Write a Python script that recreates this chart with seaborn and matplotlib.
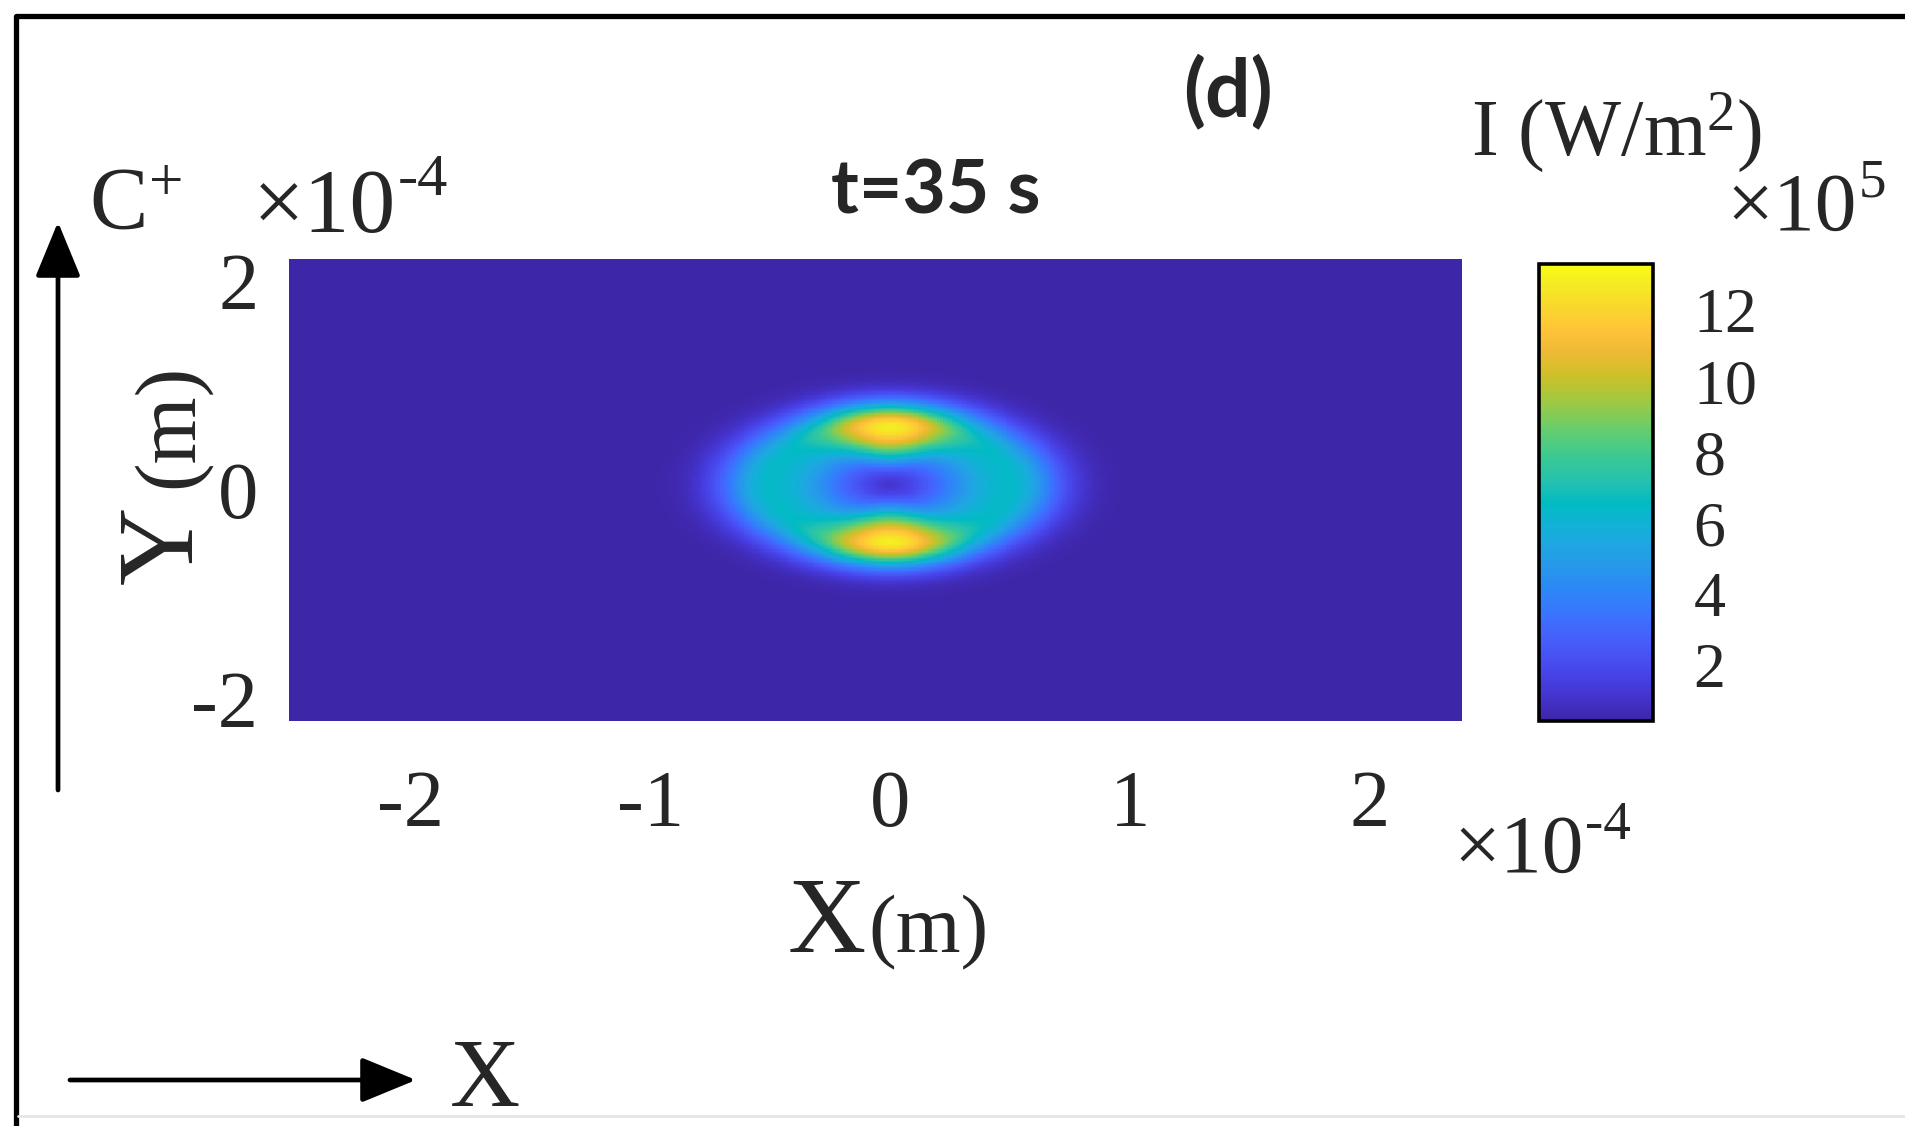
import numpy as np
import pandas as pd
import matplotlib
matplotlib.use("Agg")
import matplotlib.pyplot as plt
from matplotlib.colors import LinearSegmentedColormap
import seaborn as sns

# ── readings from the picture (x, y in 1e-4 m, I in 1e5 W/m^2) ────────────────
x_limits = [-2.5, 2.38]
y_limits = [-2.2, 2.2]
x_ticks = [-2, -1, 0, 1, 2]
y_ticks = [-2, 0, 2]
cbar_ticks = [2, 4, 6, 8, 10, 12]
i_range = [0.42, 13.3]

beam_center = [0.0, 0.05]      # ring centre
ring_radius = [0.50, 0.545]    # x / y radius of the bright ring
ring_width = [0.48, 0.30]      # inner / outer width, in ring radii
side_peak = 6.0                # cyan sides of the ring
pole_peak = 13.2               # yellow top / bottom lobes
background = 0.42

# parula (MATLAB) – every 3rd entry of the 64 colour table
parula_rgb = [
    (0.2422, 0.1504, 0.6603), (0.2647, 0.1978, 0.7952), (0.2783, 0.2559, 0.8991),
    (0.2810, 0.3228, 0.9579), (0.2699, 0.3892, 0.9906), (0.2206, 0.4603, 0.9973),
    (0.1786, 0.5289, 0.9682), (0.1540, 0.5902, 0.9218), (0.1248, 0.6459, 0.8883),
    (0.0689, 0.6948, 0.8394), (0.0067, 0.7312, 0.7660), (0.1408, 0.7584, 0.6842),
    (0.2161, 0.7843, 0.5923), (0.3406, 0.8008, 0.4789), (0.5044, 0.7993, 0.3480),
    (0.6720, 0.7793, 0.2227), (0.8203, 0.7498, 0.1535), (0.9393, 0.7288, 0.2100),
    (0.9970, 0.7659, 0.2199), (0.9786, 0.8386, 0.1766), (0.9597, 0.9135, 0.1423),
    (0.9769, 0.9839, 0.0805),
]
parula = LinearSegmentedColormap.from_list("parula", parula_rgb, N=256)

# ── intensity field ──────────────────────────────────────────────────────────
nx, ny = 400, 360
xg = np.linspace(x_limits[0], x_limits[1], nx)
yg = np.linspace(y_limits[1], y_limits[0], ny)
X, Y = np.meshgrid(xg, yg)
u = (X - beam_center[0]) / ring_radius[0]
v = (Y - beam_center[1]) / ring_radius[1]
rho = np.hypot(u, v)
pole_weight = (v ** 2 / (rho ** 2 + 0.03)) ** 4
peak = side_peak + (pole_peak - side_peak) * pole_weight
width = np.where(rho < 1, ring_width[0], ring_width[1])
field = background + peak * np.exp(-(rho - 1) ** 2 / (2 * width ** 2))
df = pd.DataFrame(field, index=np.round(yg, 4), columns=np.round(xg, 4))

# ── figure ───────────────────────────────────────────────────────────────────
sns.set_style("white")
plt.rcParams["font.family"] = ["Liberation Serif", "DejaVu Serif"]
plt.rcParams["mathtext.fontset"] = "custom"
plt.rcParams["mathtext.rm"] = "Liberation Serif"
plt.rcParams["mathtext.it"] = "Liberation Serif:italic"
plt.rcParams["axes.unicode_minus"] = False

W, H = 1906, 1126
fig = plt.figure(figsize=(W / 100, H / 100), dpi=100)
fig.patch.set_facecolor("white")

ax = fig.add_axes([289 / W, 1 - 721 / H, 1173 / W, 462 / H])
cax = fig.add_axes([1539 / W, 1 - 721 / H, 114 / W, 457 / H])

sns.heatmap(df, ax=ax, cbar_ax=cax, cmap=parula, vmin=i_range[0], vmax=i_range[1],
            xticklabels=False, yticklabels=False, rasterized=True)

dx = xg[1] - xg[0]
dy = yg[0] - yg[1]
ax.set_xticks([(t - xg[0]) / dx + 0.5 for t in x_ticks])
ax.set_xticklabels([f"{t:d}" for t in x_ticks])
ax.set_yticks([(yg[0] - t) / dy + 0.5 for t in y_ticks])
ax.set_yticklabels([f"{t:d}" for t in y_ticks])
ax.tick_params(axis="x", length=0, pad=35, labelsize=58)
ax.tick_params(axis="y", length=0, pad=22, labelsize=58)
ax.set_xlabel(""); ax.set_ylabel("")

cbar = ax.collections[0].colorbar
cbar.set_ticks(cbar_ticks, labels=[str(t) for t in cbar_ticks])
cbar.ax.tick_params(length=0, pad=29, labelsize=46)
cbar.outline.set_edgecolor("black")
cbar.outline.set_linewidth(2.6)

# ── labels ───────────────────────────────────────────────────────────────────
def fx(px): return px / W
def fy(py): return 1 - py / H

def times_ten(px, py, power, size):
    # "x10" with a raised plain-hyphen exponent, as in the original figure
    t = fig.text(fx(px), fy(py), "×10", fontsize=size, ha="left", va="baseline")
    fig.canvas.draw()
    bb = t.get_window_extent()
    fig.text(bb.x1 / W + 0.001, fy(py) + 0.40 * size / 72 * 100 / H, power,
             fontsize=size * 0.66, ha="left", va="baseline")

fig.text(fx(866), fy(952), "X", fontsize=78, ha="right", va="baseline")
fig.text(fx(868), fy(952), "(m)", fontsize=60, ha="left", va="baseline")
fig.text(fx(192), fy(506), "Y", fontsize=78, rotation=90, rotation_mode="anchor",
         ha="right", va="baseline")
fig.text(fx(192), fy(488), "(m)", fontsize=62, rotation=90, rotation_mode="anchor",
         ha="left", va="baseline")

times_ten(253, 232, "-4", 66)
times_ten(1453, 872, "-4", 60)
times_ten(1726, 230, "5", 60)
fig.text(fx(1471), fy(156), "I (W/m$^{2}$)", fontsize=58, ha="left", va="baseline")
fig.text(fx(89), fy(229), r"C$^{+}$", fontsize=63, ha="left", va="baseline")
fig.text(fx(450), fy(1106), "X", fontsize=70, ha="left", va="baseline")

fig.text(fx(936), fy(213), "t=35 s", fontsize=54, fontweight="bold",
         family=["Lato", "DejaVu Sans"], ha="center", va="baseline")
fig.text(fx(1228), fy(117), "(d)", fontsize=58, fontweight="bold",
         family=["Lato", "DejaVu Sans"], ha="center", va="baseline")

# ── frame and direction arrows (pixel overlay) ───────────────────────────────
ov = fig.add_axes([0, 0, 1, 1])
ov.set_xlim(0, W); ov.set_ylim(H, 0)
ov.axis("off"); ov.patch.set_alpha(0)
ov.plot([16, 16, W], [H, 16, 16], color="black", lw=3.8, solid_capstyle="butt")
ov.plot([18, W], [1116, 1116], color="#e6e6e6", lw=2)

arrow = dict(arrowstyle="-|>,head_length=1.7,head_width=0.7", color="black",
             lw=3.4, mutation_scale=20, shrinkA=0, shrinkB=0)
ov.annotate("", xy=(58, 222), xytext=(58, 790), arrowprops=arrow)
ov.annotate("", xy=(416, 1080), xytext=(70, 1080), arrowprops=arrow)

plt.savefig("out.png", dpi=100)
print("Saved: out.png")
